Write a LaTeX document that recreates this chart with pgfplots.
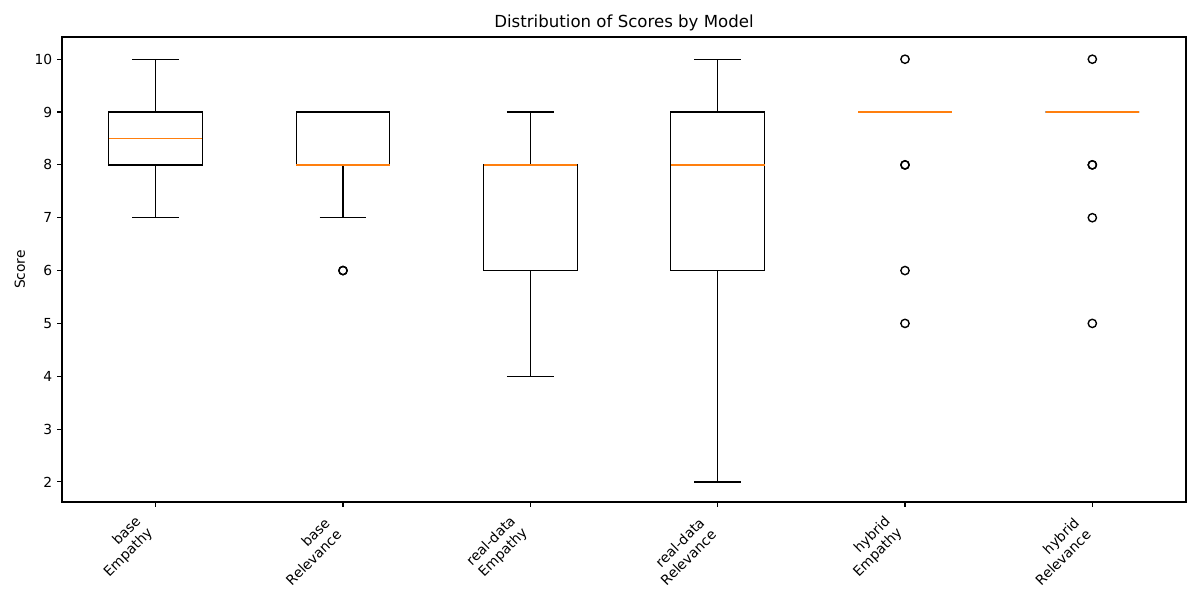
\documentclass[border=0pt]{standalone}
\usepackage{fontspec}
\setmainfont{DejaVu Sans}
\usepackage{pgfplots}
\usepgfplotslibrary{statistics}
\pgfplotsset{compat=1.18}
\definecolor{mplorange}{HTML}{FF7F0E}

\begin{document}
\begin{tikzpicture}
\useasboundingbox (-0.62in,-0.98in) rectangle (11.38in,5.02in);
\begin{axis}[
    at={(0,0)}, anchor=south west,
    scale only axis,
    width=11.24in, height=4.65in,
    xmin=0.5, xmax=6.5,
    ymin=1.62, ymax=10.42,
    xtick={1,...,6},
    xticklabels={{base\\Empathy},{base\\Relevance},{real-data\\Empathy},{real-data\\Relevance},{hybrid\\Empathy},{hybrid\\Relevance}},
    ytick={2,...,10},
    tick align=outside,
    tick pos=left,
    major tick length=3.5pt,
    axis line style={line width=0.8pt},
    every tick/.style={black, line width=0.8pt},
    tick label style={font=\fontsize{10}{12}\selectfont},
    xticklabel style={inner sep=0pt, yshift=-21pt, rotate=45, anchor=south east, align=right},
    label style={font=\fontsize{10}{12}\selectfont},
    title style={font=\fontsize{12}{14}\selectfont, yshift=-5pt},
    title={Distribution of Scores by Model},
    ylabel={Score},
    /pgf/number format/assume math mode=true,
    boxplot/draw direction=y,
    boxplot/box extend=0.5,
    boxplot/whisker extend=0.25,
    boxplot/every median/.style={draw=mplorange, line width=1pt},
]
\addplot[black, line width=0.9pt, boxplot prepared={lower whisker=7, lower quartile=8, median=8.5, upper quartile=9, upper whisker=10, draw position=1}] coordinates {};
\addplot[black, line width=0.9pt, boxplot prepared={lower whisker=7, lower quartile=8, median=8, upper quartile=9, upper whisker=9, draw position=2}] coordinates {};
\addplot[black, line width=0.9pt, boxplot prepared={lower whisker=4, lower quartile=6, median=8, upper quartile=8, upper whisker=9, draw position=3}] coordinates {};
\addplot[black, line width=0.9pt, boxplot prepared={lower whisker=2, lower quartile=6, median=8, upper quartile=9, upper whisker=10, draw position=4}] coordinates {};
\addplot[black, line width=0.9pt, boxplot prepared={lower whisker=9, lower quartile=9, median=9, upper quartile=9, upper whisker=9, draw position=5}] coordinates {};
\addplot[black, line width=0.9pt, boxplot prepared={lower whisker=9, lower quartile=9, median=9, upper quartile=9, upper whisker=9, draw position=6}] coordinates {};
% outliers (repeated values drawn twice, as in the reference)
\addplot[only marks, mark=o, mark size=3pt, black, line width=1pt] coordinates {
    (2,6) (2,6)
    (5,10) (5,8) (5,8) (5,6) (5,5)
    (6,10) (6,8) (6,8) (6,7) (6,5)
};
\end{axis}
\end{tikzpicture}
\end{document}
